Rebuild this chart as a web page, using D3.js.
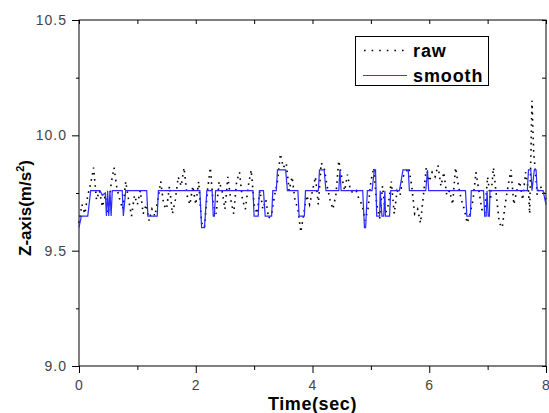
<!DOCTYPE html>
<html><head><meta charset="utf-8">
<script src="https://cdn.jsdelivr.net/npm/d3@7"></script>
<style>body{margin:0;background:#fff}svg{display:block}</style>
</head><body>
<script>
const xTicks = [0, 2, 4, 6, 8];
const xMinor = [1, 3, 5, 7];
const yTicks = [9.0, 9.5, 10.0, 10.5];
const yMinor = [9.25, 9.75, 10.25];
const seriesNames = ["raw", "smooth"];

const rawTime = [0.00,0.05,0.10,0.15,0.20,0.25,0.30,0.35,0.40,0.45,0.50,0.55,0.60,0.65,0.70,0.75,0.80,0.85,0.90,0.95,
1.00,1.05,1.10,1.15,1.20,1.25,1.30,1.35,1.40,1.45,1.50,1.55,1.60,1.65,1.70,1.75,1.80,1.85,1.90,1.95,
2.00,2.05,2.10,2.15,2.20,2.25,2.30,2.35,2.40,2.45,2.50,2.55,2.60,2.65,2.70,2.75,2.80,2.85,2.90,2.95,
3.00,3.05,3.10,3.15,3.20,3.25,3.30,3.35,3.40,3.45,3.50,3.55,3.60,3.65,3.70,3.75,3.80,3.85,3.90,3.95,
4.00,4.05,4.10,4.15,4.20,4.25,4.30,4.35,4.40,4.45,4.50,4.55,4.60,4.65,4.70,4.75,4.80,4.85,4.90,4.95,
5.00,5.05,5.10,5.15,5.20,5.25,5.30,5.35,5.40,5.45,5.50,5.55,5.60,5.65,5.70,5.75,5.80,5.85,5.90,5.95,
6.00,6.05,6.10,6.15,6.20,6.25,6.30,6.35,6.40,6.45,6.50,6.55,6.60,6.65,6.70,6.75,6.80,6.85,6.90,6.95,
7.00,7.05,7.10,7.15,7.20,7.25,7.30,7.35,7.40,7.45,7.50,7.55,7.60,7.65,7.70,7.72,7.76,7.79,7.82,7.85,7.90,7.95,8.00];
const rawValue = [9.62,9.70,9.66,9.74,9.79,9.86,9.72,9.76,9.69,9.74,9.66,9.79,9.86,9.77,9.72,9.68,9.80,9.72,9.65,9.74,
9.70,9.76,9.66,9.70,9.63,9.68,9.65,9.72,9.80,9.70,9.68,9.78,9.66,9.72,9.82,9.78,9.86,9.74,9.70,9.78,
9.70,9.80,9.62,9.60,9.76,9.86,9.70,9.66,9.80,9.76,9.68,9.82,9.72,9.66,9.80,9.84,9.72,9.68,9.78,9.85,
9.70,9.66,9.76,9.68,9.72,9.64,9.66,9.74,9.80,9.92,9.86,9.88,9.76,9.82,9.72,9.68,9.58,9.66,9.74,9.70,
9.76,9.82,9.70,9.88,9.86,9.78,9.72,9.68,9.74,9.89,9.82,9.76,9.83,9.76,9.75,9.76,9.72,9.70,9.63,9.68,
9.80,9.86,9.70,9.64,9.78,9.66,9.70,9.80,9.66,9.76,9.74,9.82,9.84,9.86,9.78,9.66,9.68,9.62,9.74,9.86,
9.80,9.84,9.82,9.87,9.78,9.84,9.74,9.76,9.70,9.86,9.78,9.72,9.68,9.62,9.66,9.72,9.84,9.76,9.68,9.66,
9.82,9.72,9.86,9.74,9.62,9.60,9.70,9.78,9.85,9.70,9.76,9.80,9.72,9.84,9.76,9.66,10.15,9.92,9.84,9.74,9.78,9.76,9.72];

const smoothTime = [0,0.04,0.15,0.20,0.36,0.40,0.45,0.47,0.49,0.51,0.53,0.55,0.57,0.74,0.76,0.80,1.16,1.18,1.34,1.36,
2.07,2.10,2.15,2.19,2.28,2.30,2.32,2.34,2.98,3.00,3.07,3.09,3.16,3.19,3.30,3.32,3.38,3.40,3.54,3.57,
3.75,3.77,3.86,3.88,4.10,4.12,4.20,4.23,4.45,4.47,4.49,4.86,4.89,4.91,4.94,5.02,5.06,5.08,5.10,5.15,
5.16,5.19,5.22,5.24,5.25,5.32,5.34,5.49,5.55,5.64,5.66,5.94,5.97,5.99,6.62,6.645,6.705,6.72,6.93,6.95,
6.975,6.99,7.01,7.03,7.04,7.68,7.70,7.74,7.76,7.80,7.83,7.85,7.95,8.00];
const smoothValue = [9.60,9.65,9.65,9.76,9.76,9.74,9.75,9.65,9.76,9.65,9.76,9.65,9.76,9.76,9.65,9.76,9.76,9.65,9.65,9.76,
9.76,9.60,9.60,9.76,9.76,9.65,9.65,9.76,9.76,9.65,9.65,9.76,9.76,9.65,9.65,9.76,9.76,9.85,9.85,9.76,
9.76,9.65,9.65,9.76,9.76,9.85,9.85,9.76,9.76,9.85,9.76,9.76,9.60,9.60,9.76,9.76,9.85,9.85,9.65,9.65,
9.76,9.65,9.65,9.76,9.65,9.65,9.76,9.76,9.85,9.85,9.76,9.76,9.85,9.76,9.76,9.65,9.65,9.76,9.76,9.65,
9.65,9.76,9.65,9.65,9.76,9.76,9.85,9.85,9.76,9.85,9.85,9.76,9.76,9.70];

const W = 549, H = 413;
const m = {left: 79, right: 3, top: 20, bottom: 47};
const svg = d3.select("body").append("svg").attr("width", W).attr("height", H);

const x = d3.scaleLinear().domain([0, 8]).range([m.left, W - m.right]);
const y = d3.scaleLinear().domain([9.0, 10.5]).range([H - m.bottom, m.top]);

const fontTick = "Arial, 'Liberation Sans', sans-serif";

// frame
svg.append("rect").attr("x", x(0)).attr("y", y(10.5)).attr("width", x(8) - x(0)).attr("height", y(9.0) - y(10.5))
  .attr("fill", "none").attr("stroke", "#000").attr("stroke-width", 1);

// bottom axis
svg.append("g").attr("transform", `translate(0,${y(9.0)})`)
  .call(d3.axisBottom(x).tickValues(xTicks).tickSize(7).tickPadding(7).tickFormat(d3.format("d")));
svg.append("g").attr("transform", `translate(0,${y(9.0)})`)
  .call(d3.axisBottom(x).tickValues(xMinor).tickSize(4).tickFormat(""));
// left axis
svg.append("g").attr("transform", `translate(${x(0)},0)`)
  .call(d3.axisLeft(y).tickValues(yTicks).tickSize(7).tickPadding(5).tickFormat(d3.format(".1f")));
svg.append("g").attr("transform", `translate(${x(0)},0)`)
  .call(d3.axisLeft(y).tickValues(yMinor).tickSize(3).tickFormat(""));
// top axis inward
svg.append("g").attr("transform", `translate(0,${y(10.5)})`)
  .call(d3.axisBottom(x).tickValues(xTicks.concat(xMinor)).tickSize(4).tickFormat(""));
// right axis inward
svg.append("g").attr("transform", `translate(${x(8)},0)`)
  .call(d3.axisLeft(y).tickValues(yTicks.concat(yMinor)).tickSize(4).tickFormat(""));

svg.selectAll(".domain").remove();
svg.selectAll(".tick line").attr("stroke", "#000");
svg.selectAll(".tick text").attr("font-family", fontTick).attr("font-size", 14)
  .attr("letter-spacing", 1).attr("fill", "#444");

// data
const rawData = rawTime.map((t, i) => [t, rawValue[i]]);
const smoothData = smoothTime.map((t, i) => [t, smoothValue[i]]);
const line = d3.line().x(d => x(d[0])).y(d => y(d[1]));

svg.append("path").datum(rawData).attr("d", line).attr("fill", "none")
  .attr("stroke", "#000").attr("stroke-width", 1.6).attr("stroke-dasharray", "1.6,4.6");
svg.append("path").datum(smoothData).attr("d", line).attr("fill", "none")
  .attr("stroke", "#2a2aff").attr("stroke-width", 1.2);

// legend
const lg = svg.append("g");
lg.append("rect").attr("x", 355.5).attr("y", 36.5).attr("width", 133).attr("height", 49)
  .attr("fill", "#fff").attr("stroke", "#000").attr("stroke-width", 1);
lg.append("line").attr("x1", 364).attr("x2", 407).attr("y1", 50.5).attr("y2", 50.5)
  .attr("stroke", "#000").attr("stroke-width", 1.6).attr("stroke-dasharray", "1.6,6");
lg.append("line").attr("x1", 363).attr("x2", 407).attr("y1", 75.5).attr("y2", 75.5)
  .attr("stroke", "#3a3aff").attr("stroke-width", 1.2);
lg.selectAll("text.lab").data(seriesNames).join("text").attr("class", "lab")
  .attr("x", 413).attr("y", (d, i) => 56.5 + i * 25)
  .attr("font-family", fontTick).attr("font-weight", "bold").attr("font-size", 18)
  .attr("letter-spacing", 0.9).attr("fill", "#000")
  .text(d => d);

// axis titles
svg.append("text").attr("x", (x(0) + x(8)) / 2).attr("y", 410).attr("text-anchor", "middle")
  .attr("font-family", fontTick).attr("font-weight", "bold").attr("font-size", 18)
  .attr("letter-spacing", 0.6).text("Time(sec)");
const yt = svg.append("text").attr("transform", `translate(31,${(y(9.0)+y(10.5))/2 + 15}) rotate(-90)`)
  .attr("text-anchor", "middle").attr("font-family", fontTick).attr("font-weight", "bold").attr("font-size", 17);
yt.append("tspan").text("Z-axis(m/s");
yt.append("tspan").attr("font-size", 11).attr("dy", -7).text("2");
yt.append("tspan").attr("dy", 7).text(")");
</script>
</body></html>
